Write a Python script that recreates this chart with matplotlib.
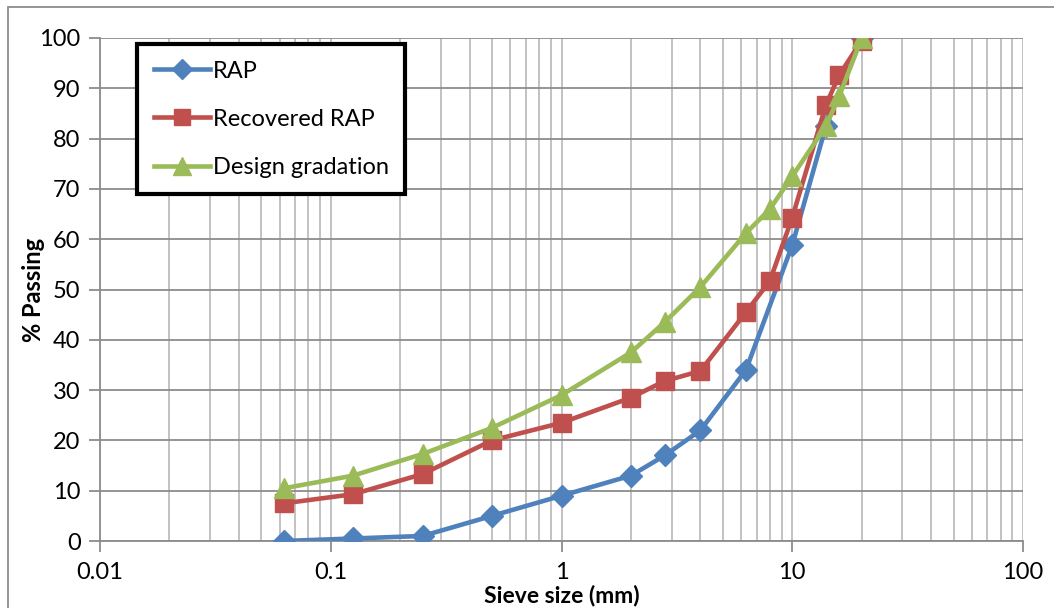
import matplotlib
matplotlib.use("Agg")
import matplotlib.pyplot as plt
from matplotlib.patches import Rectangle
from matplotlib.ticker import LogLocator, NullFormatter, FixedLocator

plt.rcParams['font.family'] = ['Lato', 'DejaVu Sans']

# sieve sizes (mm) and % passing
sieve_rap = [0.063, 0.125, 0.25, 0.5, 1, 2, 2.8, 4, 6.3, 10, 14, 20]
rap = [0, 0.5, 1, 5, 9, 13, 17, 22, 34, 58.8, 82.5, 100]

sieve_rec = [0.063, 0.125, 0.25, 0.5, 1, 2, 2.8, 4, 6.3, 8, 10, 14, 16, 20]
recovered = [7.5, 9.3, 13.3, 20, 23.5, 28.5, 31.8, 33.8, 45.5, 51.7, 64.3, 86.7, 92.7, 99.5]

sieve_des = [0.063, 0.125, 0.25, 0.5, 1, 2, 2.8, 4, 6.3, 8, 10, 14, 16, 20]
design = [10.5, 13, 17.3, 22.5, 29, 37.5, 43.5, 50.5, 61.2, 66, 72.5, 82.5, 88.5, 100]

blue = '#4F81BD'
red = '#C0504D'
green = '#9BBB59'

fig = plt.figure(figsize=(10.54, 6.08), dpi=100)
ax = fig.add_axes([100 / 1054, 1 - 541 / 608, 923 / 1054, 503 / 608])

# outer chart border
fig.patches.append(Rectangle((8 / 1054, -0.1), 1.2, 1 - 7 / 608 + 0.1,
                             transform=fig.transFigure, fill=False,
                             edgecolor='#8c8c8c', linewidth=1.3))

ax.plot(sieve_rap, rap, color=blue, lw=3.3, marker='D', ms=11, label='RAP', zorder=3)
ax.plot(sieve_rec, recovered, color=red, lw=3.3, marker='s', ms=12.5, label='Recovered RAP', zorder=3)
ax.plot(sieve_des, design, color=green, lw=3.3, marker='^', ms=14, label='Design gradation', zorder=3)

ax.set_xscale('log')
ax.set_xlim(0.01, 100)
ax.set_ylim(0, 100)
ax.xaxis.set_major_locator(FixedLocator([0.01, 0.1, 1, 10, 100]))
ax.xaxis.set_major_formatter(plt.FixedFormatter(['0.01', '0.1', '1', '10', '100']))
ax.xaxis.set_minor_locator(LogLocator(base=10, subs=range(2, 10)))
ax.xaxis.set_minor_formatter(NullFormatter())
ax.set_yticks(range(0, 101, 10))

ax.grid(True, which='major', axis='y', color='#8c8c8c', lw=1.3)
ax.grid(True, which='both', axis='x', color='#bdbdbd', lw=1.3)
ax.set_axisbelow(True)

for s in ax.spines.values():
    s.set_color('#8c8c8c')
    s.set_linewidth(1.3)
ax.spines['top'].set_visible(False)
ax.spines['right'].set_visible(False)

ax.tick_params(axis='both', which='major', labelsize=17, color='#8c8c8c', width=1.3, length=8)
ax.tick_params(axis='x', which='major', pad=7)
ax.tick_params(axis='x', which='minor', length=0)
ax.tick_params(axis='y', pad=6)

ax.set_xlabel('Sieve size (mm)', fontsize=16.5, fontweight='bold')
ax.xaxis.set_label_coords(0.5005, -0.086)
ax.set_ylabel('% Passing', fontsize=17, fontweight='bold', labelpad=-4)

leg = ax.legend(loc='upper left', bbox_to_anchor=(37 / 923, 1 - 6 / 503),
                borderaxespad=0, fontsize=17, fancybox=False, framealpha=1,
                handlelength=2.4, handletextpad=0.1, labelspacing=1.15,
                borderpad=0.7, markerscale=0.9)
leg.get_frame().set_edgecolor('black')
leg.get_frame().set_linewidth(3)

fig.savefig('out.png', dpi=100)
